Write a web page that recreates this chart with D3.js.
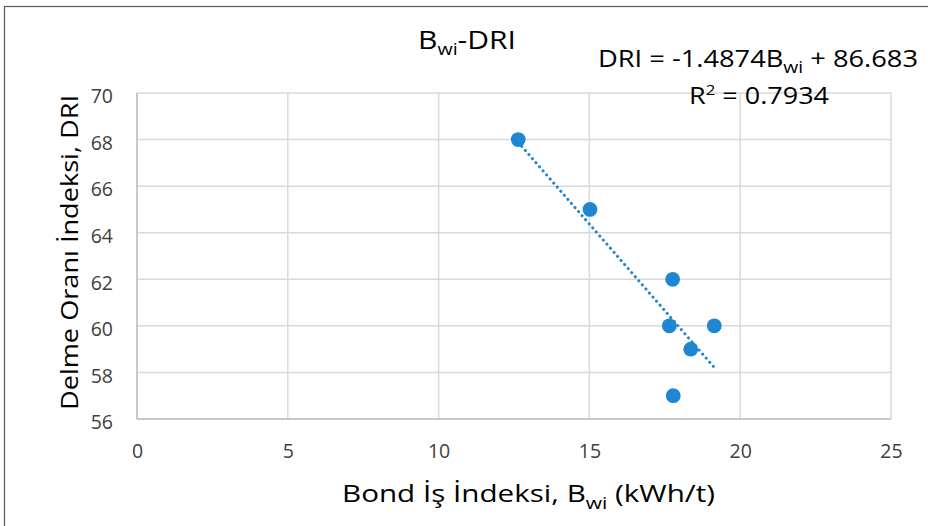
<!DOCTYPE html>
<html><head><meta charset="utf-8">
<script src="https://cdn.jsdelivr.net/npm/d3@7"></script>
<style>
html,body{margin:0;padding:0;background:#fff;}
svg{display:block;font-family:"Open Sans", sans-serif;}
</style></head>
<body>
<svg id="c" width="928" height="526"></svg>
<script>
const bwi = [12.64, 15.02, 17.76, 17.65, 19.14, 18.36, 17.78];
const dri = [68, 65, 62, 60, 60, 59, 57];
const xTicks = [0, 5, 10, 15, 20, 25];
const yTicks = [56, 58, 60, 62, 64, 66, 68, 70];
const slope = -1.4874, intercept = 86.683, r2 = 0.7934;

const FONT = "'Open Sans', sans-serif";
const svg = d3.select("#c");
const W = 928, H = 526;
svg.append("rect").attr("x",0).attr("y",0).attr("width",W).attr("height",H).attr("fill","#fff");
svg.append("rect").attr("x",4.5).attr("y",6.5).attr("width",W+20).attr("height",H+20)
  .attr("fill","none").attr("stroke","#595959").attr("stroke-width",1.2);

const x = d3.scaleLinear().domain([0,25]).range([137,891]);
const y = d3.scaleLinear().domain([56,70]).range([419,93]);

const g = svg.append("g");
g.selectAll(".hg").data(yTicks).join("line")
  .attr("x1",x(0)).attr("x2",x(25)).attr("y1",d=>y(d)).attr("y2",d=>y(d))
  .attr("stroke","#d9d9d9").attr("stroke-width",1.5);
g.selectAll(".vg").data(xTicks).join("line")
  .attr("y1",y(56)).attr("y2",y(70)).attr("x1",d=>x(d)).attr("x2",d=>x(d))
  .attr("stroke","#d9d9d9").attr("stroke-width",1.5);
g.append("line").attr("x1",x(0)).attr("x2",x(0)).attr("y1",y(56)).attr("y2",y(70)).attr("stroke","#bfbfbf").attr("stroke-width",1.5);
g.append("line").attr("x1",x(0)).attr("x2",x(25)).attr("y1",y(56)).attr("y2",y(56)).attr("stroke","#bfbfbf").attr("stroke-width",1.5);

const yAxis = d3.axisLeft(y).tickValues(yTicks).tickSize(0).tickPadding(24);
const ya = svg.append("g").attr("transform",`translate(${x(0)},0)`).call(yAxis);
const xAxis = d3.axisBottom(x).tickValues(xTicks).tickSize(0).tickPadding(25);
const xa = svg.append("g").attr("transform",`translate(0,${y(56)})`).call(xAxis);
[ya,xa].forEach(a=>{
  a.select(".domain").remove();
  a.selectAll("text").attr("font-family",FONT).attr("font-size",19.5).attr("fill","#404040");
});
ya.selectAll("text").attr("dy","0.5em");

const xmin = d3.min(bwi), xmax = d3.max(bwi);
svg.append("line")
  .attr("x1",x(xmin)).attr("y1",y(slope*xmin+intercept))
  .attr("x2",x(xmax)).attr("y2",y(slope*xmax+intercept))
  .attr("stroke","#1f86d1").attr("stroke-width",3)
  .attr("stroke-dasharray","0.1 5.3").attr("stroke-linecap","round");

svg.selectAll(".pt").data(bwi.map((b,i)=>({b,d:dri[i]}))).join("circle")
  .attr("cx",d=>x(d.b)).attr("cy",d=>y(d.d)).attr("r",7.4).attr("fill","#1f86d1");

function txt(xp, yp, size, len){
  return svg.append("text").attr("x",xp).attr("y",yp).attr("text-anchor","middle")
    .attr("font-size",size).attr("fill","#000")
    .attr("textLength",len).attr("lengthAdjust","spacingAndGlyphs");
}

const t = txt(467, 49, 26, 98);
t.append("tspan").text("B");
t.append("tspan").attr("font-size",17).attr("dy",6).text("wi");
t.append("tspan").attr("dy",-6).text("-DRI");

const e = txt(758, 67, 24, 320);
e.append("tspan").text(`DRI = ${slope}B`);
e.append("tspan").attr("font-size",17).attr("dy",6).text("wi");
e.append("tspan").attr("dy",-6).text(` + ${intercept}`);
const r = txt(759, 104, 24, 140);
r.append("tspan").text("R");
r.append("tspan").attr("font-size",15).attr("dy",-9).text("2");
r.append("tspan").attr("dy",9).text(` = ${r2}`);

svg.append("text").attr("transform","translate(78,252.5) rotate(-90)").attr("text-anchor","middle")
  .attr("font-size",24.5).attr("fill","#000")
  .attr("textLength",315).attr("lengthAdjust","spacingAndGlyphs")
  .text("Delme Oranı İndeksi, DRI");

const xt = txt(528.5, 502, 24, 373);
xt.append("tspan").text("Bond İş İndeksi, B");
xt.append("tspan").attr("font-size",17).attr("dy",7).text("wi");
xt.append("tspan").attr("dy",-7).text(" (kWh/t)");
</script>
</body></html>
